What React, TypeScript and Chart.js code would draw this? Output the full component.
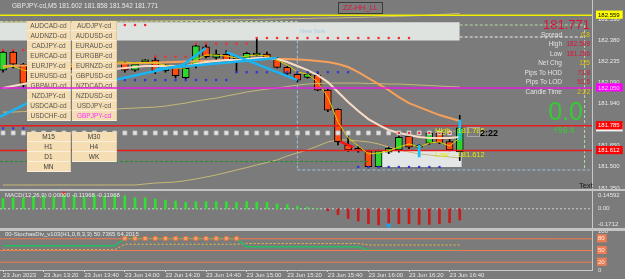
import React, { useEffect, useRef } from "react";
import { Chart, registerables } from "chart.js";

Chart.register(...registerables);

// ================= DATA =================
const TIME_LABELS = ["23 Jun 2023", "23 Jun 13:20", "23 Jun 13:40", "23 Jun 14:00", "23 Jun 14:20", "23 Jun 14:40", "23 Jun 15:00", "23 Jun 15:20", "23 Jun 15:40", "23 Jun 16:00", "23 Jun 16:20", "23 Jun 16:40"];
const TIME_TICK_BARS = [0, 4, 8, 12, 16, 20, 24, 28, 32, 36, 40, 44];

// M5 candles, bar 0 = 13:00 ... bar 45 = 16:45
const OPEN = [182.175, 182.300, 182.215, 182.082, 182.110, 182.150, 182.170, 182.210, 182.180, 182.200, 182.240, 182.220, 182.224, 182.175, 182.233, 182.245, 182.170, 182.194, 182.121, 182.210, 182.338, 182.264, 182.285, 182.262, 182.257, 182.280, 182.287, 182.257, 182.194, 182.145, 182.124, 182.140, 182.035, 181.900, 181.651, 181.628, 181.610, 181.499, 181.600, 181.616, 181.714, 181.635, 181.663, 181.733, 181.674, 181.602];
const HIGH = [182.310, 182.315, 182.222, 182.120, 182.160, 182.190, 182.220, 182.230, 182.210, 182.250, 182.260, 182.240, 182.235, 182.228, 182.248, 182.272, 182.215, 182.200, 182.210, 182.350, 182.355, 182.315, 182.310, 182.268, 182.300, 182.397, 182.300, 182.262, 182.200, 182.150, 182.155, 182.162, 182.040, 181.905, 181.707, 181.640, 181.615, 181.615, 181.636, 181.715, 181.722, 181.655, 181.745, 181.750, 181.690, 181.858];
const LOW = [182.160, 182.190, 182.050, 182.060, 182.100, 182.130, 182.160, 182.170, 182.160, 182.190, 182.210, 182.200, 182.160, 182.165, 182.225, 182.150, 182.160, 182.120, 182.105, 182.190, 182.260, 182.245, 182.240, 182.157, 182.250, 182.275, 182.250, 182.190, 182.145, 182.090, 182.118, 182.030, 181.884, 181.651, 181.605, 181.600, 181.490, 181.490, 181.590, 181.600, 181.625, 181.600, 181.655, 181.660, 181.610, 181.542];
const CLOSE = [182.301, 182.217, 182.082, 182.110, 182.150, 182.170, 182.210, 182.180, 182.200, 182.240, 182.220, 182.222, 182.175, 182.217, 182.242, 182.170, 182.210, 182.135, 182.187, 182.345, 182.268, 182.285, 182.245, 182.255, 182.292, 182.290, 182.257, 182.194, 182.152, 182.105, 182.147, 182.035, 181.895, 181.674, 181.616, 181.612, 181.499, 181.610, 181.628, 181.705, 181.635, 181.645, 181.733, 181.665, 181.616, 181.771];

const MA_SLOW = [182.203, 182.205, 182.207, 182.209, 182.210, 182.212, 182.213, 182.214, 182.215, 182.216, 182.217, 182.219, 182.221, 182.223, 182.224, 182.226, 182.229, 182.231, 182.234, 182.236, 182.238, 182.241, 182.244, 182.247, 182.249, 182.252, 182.253, 182.253, 182.252, 182.249, 182.245, 182.239, 182.231, 182.217, 182.196, 182.161, 182.119, 182.077, 182.035, 181.986, 181.944, 181.916, 181.888, 181.860, 181.840, 181.819];
const MA_MID = [182.049, 182.063, 182.077, 182.091, 182.105, 182.119, 182.133, 182.147, 182.161, 182.168, 182.175, 182.182, 182.189, 182.196, 182.203, 182.203, 182.203, 182.203, 182.203, 182.217, 182.231, 182.238, 182.245, 182.245, 182.252, 182.259, 182.259, 182.252, 182.231, 182.203, 182.175, 182.140, 182.091, 182.021, 181.951, 181.888, 181.832, 181.791, 181.756, 181.735, 181.721, 181.707, 181.700, 181.700, 181.700, 181.707];
const MA_FAST = [182.189, 182.203, 182.175, 182.161, 182.161, 182.175, 182.189, 182.203, 182.210, 182.217, 182.224, 182.231, 182.231, 182.224, 182.231, 182.224, 182.210, 182.189, 182.189, 182.245, 182.280, 182.280, 182.273, 182.259, 182.273, 182.280, 182.273, 182.245, 182.210, 182.161, 182.147, 182.091, 181.986, 181.812, 181.700, 181.644, 181.588, 181.595, 181.609, 181.637, 181.658, 181.637, 181.665, 181.672, 181.644, 181.700];
const BAND_UP = [182.511, 182.511, 182.512, 182.512, 182.513, 182.513, 182.514, 182.514, 182.515, 182.515, 182.516, 182.516, 182.517, 182.517, 182.518, 182.518, 182.519, 182.520, 182.521, 182.522, 182.523, 182.525, 182.526, 182.527, 182.528, 182.530, 182.531, 182.532, 182.534, 182.535, 182.536, 182.538, 182.539, 182.540, 182.542, 182.543, 182.545, 182.547, 182.549, 182.551, 182.553, 182.556, 182.559, 182.563, 182.567, 182.572];
const BAND_MID = [181.881, 181.881, 181.885, 181.888, 181.888, 181.888, 181.892, 181.895, 181.895, 181.899, 181.902, 181.902, 181.906, 181.909, 181.913, 181.916, 181.923, 181.934, 181.944, 181.958, 181.969, 181.979, 181.993, 182.007, 182.021, 182.032, 182.042, 182.049, 182.060, 182.070, 182.077, 182.081, 182.084, 182.084, 182.084, 182.084, 182.081, 182.081, 182.077, 182.077, 182.074, 182.070, 182.067, 182.063, 182.060, 182.056];
const BAND_LOW = [181.371, 181.371, 181.371, 181.371, 181.371, 181.371, 181.371, 181.371, 181.371, 181.371, 181.371, 181.371, 181.371, 181.371, 181.378, 181.385, 181.388, 181.392, 181.402, 181.413, 181.427, 181.441, 181.458, 181.476, 181.493, 181.511, 181.528, 181.546, 181.574, 181.595, 181.616, 181.644, 181.672, 181.686, 181.686, 181.679, 181.672, 181.658, 181.637, 181.616, 181.602, 181.588, 181.581, 181.574, 181.567, 181.560];

const RES_DOTS_HIGH = [182.315, 182.315, 182.315, null, null, null, null, null, null, null, null, null, 182.490, 182.490, 182.490, 182.268, 182.268, 182.268, 182.268, 182.360, 182.360, 182.360, 182.360, 182.360, 182.360, 182.399, 182.399, 182.399, 182.399, 182.399, 182.399, 182.399, 182.399, 182.399, 182.399, 182.399, 182.399, 182.399, 182.399, 182.399, 182.399, null, null, null, null, null];
const RES_DOTS_LOW = [null, null, null, null, null, null, null, null, null, null, null, null, null, null, null, null, null, null, null, null, null, null, null, null, null, null, null, null, null, null, null, null, null, null, null, null, null, null, null, 181.735, 181.735, 181.735, 181.735, 181.735, 181.735, null];
const SUP_DOTS = [181.767, 181.767, 181.767, null, null, null, null, null, null, null, null, null, 182.105, 182.105, 182.105, 182.105, 182.105, 182.105, 182.105, 182.105, 182.105, 182.105, 182.105, 182.160, 182.160, 182.160, 182.160, 182.160, 182.160, 182.160, 182.160, 182.160, 182.160, 182.160, 182.160, 181.497, 181.497, 181.497, 181.497, 181.497, 181.497, 181.497, 181.497, 181.497, null];
const SQUARE_LEVEL = 181.735;
const SQUARE_LAST_BAR = 44;

const LEVEL_YELLOW = 182.559;
const LEVEL_MAGENTA = 182.050;
const LEVEL_RED_HIGH = 181.785;
const LEVEL_RED_LOW = 181.612;
const LEVEL_GREEN_DASH = { price: 181.535, toBar: 36 };
const NY_BOX = { top: 182.510, bottom: 182.382, toBar: 45 };
const LOW_BOX = { top: 181.610, bottom: 181.497, fromBar: 37.2, toBar: 45.2 };
const SESSION_RECT = { fromBar: 29, toBar: 57.3, top: 182.49, bottom: 181.476, inner: 182.406, nyTop: 182.515 };

const TREND_A = [{ bar: -0.3, price: 181.847 }, { bar: 3.75, price: 181.993 }, { bar: 17.7, price: 182.210 }, { bar: 20, price: 182.329 }];
const TREND_B = [{ bar: 22, price: 182.301 }, { bar: 29, price: 182.105 }];
const TREND_C = [{ bar: 15, price: 182.182 }, { bar: 27, price: 182.259 }];
const RED_SEGMENT = [{ bar: 33.2, price: 181.675 }, { bar: 34.5, price: 181.636 }];
const CYAN_ARROWS = [{ bar: 41, lo: 181.567, hi: 181.651 }, { bar: 45, lo: 181.686, hi: 181.826 }];

const PRICE_TICKS = [182.530, 182.380, 182.235, 182.090, 181.940, 181.795, 181.650, 181.500, 181.350];
const PRICE_MARKS = [
  { value: 182.559, bg: "#ffff00", fg: "#000000" },
  { value: 182.050, bg: "#ff00ff", fg: "#ffd8ff" },
  { value: 181.771, bg: "#f2f2f2", fg: "#000000" },
  { value: 181.785, bg: "#ff0000", fg: "#ffffff" },
  { value: 181.612, bg: "#ff0000", fg: "#ffffff" },
];

const MACD_HIST = [0.110, 0.117, 0.117, 0.128, 0.138, 0.128, 0.1459, 0.138, 0.128, 0.145, 0.138, 0.145, 0.138, 0.117, 0.117, 0.104, 0.093, 0.083, 0.069, 0.076, 0.076, 0.076, 0.076, 0.069, 0.076, 0.069, 0.069, 0.052, 0.045, 0.028, 0.017, 0.003, -0.021, -0.062, -0.104, -0.131, -0.159, -0.1712, -0.166, -0.159, -0.159, -0.166, -0.166, -0.159, -0.148, -0.1197];
const MACD_TICKS = [0.14592, 0, -0.1712];
const MACD_TICK_LABELS = ["0.14592", "0.00", "-0.1712"];
const MACD_UP_MARK = { bar: 6, value: 0.169 };
const MACD_DOWN_MARK = { bar: 38, value: -0.177 };

const STOCH_MAIN = [62, 62, 62, 62, 62, 62, 62, 62, 62, 62, 62, 62, 81, 81, 81, 81, 81, 81, 81, 81, 81, 81, 81, 81, 59.5, 59.5, 59.5, 59.5, 59.5, 59.5, 59.5, 59.5, 59.5, 59.5, 59.5, 59.5, 50.74, 50.74, 50.74, 50.74, 50.74, 50.74, 50.74, 50.74, 50.74, 50.74];
const STOCH_SIGNAL = [52, 52, 52, 52, 52, 52, 52, 52, 52, 52, 52, 52, 66, 66, 66, 66, 66, 66, 66, 66, 66, 66, 66, 66, 68, 68, 68, 68, 68, 68, 68, 68, 68, 68, 68, 68, 64.2, 64.2, 64.2, 64.2, 64.2, 64.2, 64.2, 64.2, 64.2, 64.2];
const STOCH_OB = [null, null, null, null, null, null, null, null, null, null, null, null, 81, 81, 81, 81, 81, 81, 81, 81, 81, 81, 81, 81, null, null, null, null, null, null, null, null, null, null, null, null, null, null, null, null, null, null, null, null, null, null];
const STOCH_LEVELS = [80, 50, 20];
const STOCH_TICKS = [100, 80, 50, 20, 0];

const PAIR_BUTTONS = [["AUDCAD-cd", "AUDJPY-cd"], ["AUDNZD-cd", "AUDUSD-cd"], ["CADJPY-cd", "EURAUD-cd"], ["EURCAD-cd", "EURGBP-cd"], ["EURJPY-cd", "EURNZD-cd"], ["EURUSD-cd", "GBPUSD-cd"], ["GBPAUD-cd", "NZDCAD-cd"], ["NZDJPY-cd", "NZDUSD-cd"], ["USDCAD-cd", "USDJPY-cd"], ["USDCHF-cd", "GBPJPY-cd"]];
const TF_BUTTONS = [["M15", "M30"], ["H1", "H4"], ["D1", "WK"], ["MN"]];
const INFO_ROWS = [
  ["Spread", "0.8", "#e8c400"],
  ["High", "182.509", "#dc143c"],
  ["Low", "181.256", "#dc143c"],
  ["Net Chg", "125", "#e8c400"],
  ["Pips To HOD", "73.8", "#dc143c"],
  ["Pips To LOD", "51.5", "#dc143c"],
  ["Candle Time", "2:22", "#e8c400"],
];

// ================= LAYOUT / STYLE =================
const W = 625;
const H = 279;
const AXIS_W = 33;
const X_MIN = -0.3;
const X_MAX = 58.03;
const MAIN_BOTTOM = 189;
const PRICE_MIN = 181.343;
const PRICE_MAX = 182.665;
const MACD_TOP = 191;
const MACD_BOTTOM = 228;
const STOCH_TOP = 231;
const STOCH_BOTTOM = 270;
const FONT = "'Liberation Sans', Arial, sans-serif";
const BG = "#7b7b7b";
const AXIS_TEXT = "#e8e8e8";
const BULL = "#2fd52f";
const BEAR = "#ff4a12";

const markOf = (marks: any[], v: any) => (v === undefined || v === null ? undefined : marks.find((m) => Math.abs(m.value - v) < 1e-7));
const series = (arr: any[]) => arr.map((v, i) => ({ x: i, y: v }));
const hline = (v: number, from = X_MIN, to = X_MAX) => [{ x: from, y: v }, { x: to, y: v }];
const pts = (arr: any[]) => arr.map((p) => ({ x: p.bar, y: p.price }));

const line = (data: any[], color: string, width: number, order: number, extra: any = {}) => ({
  type: "line", data, borderColor: color, backgroundColor: color, borderWidth: width, pointRadius: 0, tension: 0, fill: false, order, ...extra,
});
const dots = (data: any[], color: string, radius: number, style: string, order: number, border = color) => ({
  type: "line", data, showLine: false, pointRadius: radius, pointStyle: style, pointBackgroundColor: color, pointBorderColor: border, pointBorderWidth: border === color ? 0 : 0.8, order,
});

const fixY = (s: any) => { s.width = AXIS_W; s.paddingTop = 0; s.paddingBottom = 0; };
const xHidden = { type: "linear", min: X_MIN, max: X_MAX, display: false, offset: false };
const baseOptions = (top: number, bottom: number) => ({
  animation: false, responsive: false, maintainAspectRatio: false, events: [],
  layout: { autoPadding: false, padding: { left: 0, right: 0, top, bottom } },
  plugins: { legend: { display: false }, tooltip: { enabled: false } },
});
const tickFont = { family: FONT, size: 6 };

function mainDatasets() {
  const squares = [];
  for (let i = 0; i <= SQUARE_LAST_BAR; i++) squares.push({ x: i, y: SQUARE_LEVEL });
  return [
    line(hline(NY_BOX.top, X_MIN, NY_BOX.toBar), "rgba(0,0,0,0)", 0, 100, { fill: { value: NY_BOX.bottom }, backgroundColor: "#dfe3df" }),
    line(hline(LOW_BOX.top, LOW_BOX.fromBar, LOW_BOX.toBar), "rgba(0,0,0,0)", 0, 99, { fill: { value: LOW_BOX.bottom }, backgroundColor: "#e2e6e6" }),
    line(hline(SESSION_RECT.nyTop, X_MIN, SESSION_RECT.fromBar), "#b4dca0", 1, 90, { borderDash: [3, 2] }),
    line([{ x: SESSION_RECT.fromBar, y: NY_BOX.bottom }, { x: SESSION_RECT.fromBar, y: SESSION_RECT.bottom }], "#9cc4e4", 1, 90, { borderDash: [3, 2] }),
    line(hline(SESSION_RECT.bottom, SESSION_RECT.fromBar, SESSION_RECT.toBar + 0.5), "#9cc4e4", 1, 90, { borderDash: [3, 2] }),
    line(hline(SESSION_RECT.top, NY_BOX.toBar, SESSION_RECT.toBar), "#b4dca0", 1, 90, { borderDash: [3, 2] }),
    line([{ x: SESSION_RECT.toBar, y: SESSION_RECT.top }, { x: SESSION_RECT.toBar, y: SESSION_RECT.bottom }], "#b4dca0", 1, 90, { borderDash: [3, 2] }),
    line(hline(SESSION_RECT.inner, NY_BOX.toBar, SESSION_RECT.toBar), "#eeeeee", 1, 90, { borderDash: [3, 2] }),
    line(series(BAND_UP), "#c8b878", 1, 80),
    line(series(BAND_LOW), "#c8b878", 1, 80),
    {
      type: "bar", data: OPEN.map((_, i) => ({ x: i, y: [LOW[i], HIGH[i]] })), backgroundColor: "#000000",
      barThickness: 1, grouped: false, order: 61,
    },
    {
      type: "bar", data: OPEN.map((o, i) => ({ x: i, y: [o, CLOSE[i]] })),
      backgroundColor: OPEN.map((o, i) => (CLOSE[i] >= o ? BULL : BEAR)),
      borderColor: "#000000", borderWidth: 1, borderSkipped: false, barThickness: 7, grouped: false, minBarLength: 2, order: 60,
    },
    line(hline(LEVEL_YELLOW), "#f0f000", 1.5, 55),
    line(hline(LEVEL_RED_HIGH), "#e81c1c", 1.5, 55),
    line(hline(LEVEL_RED_LOW), "#e81c1c", 1.5, 55),
    line(hline(LEVEL_GREEN_DASH.price, X_MIN, LEVEL_GREEN_DASH.toBar), "#238c23", 1, 55, { borderDash: [3, 2] }),
    line(series(BAND_MID), "#c8b878", 1, 50),
    line(series(MA_SLOW), "#f5a05a", 2, 49),
    line(series(MA_MID), "#fadcc4", 2, 48),
    line(series(MA_FAST), "#e0cc00", 1, 47),
    dots(squares, "#e4e4e4", 2.8, "rect", 40, "#c0c0c0"),
    dots(series(RES_DOTS_HIGH), "#f03030", 1.6, "rect", 39),
    dots(series(RES_DOTS_LOW), "#f03030", 1.5, "rect", 38),
    dots(series(SUP_DOTS), "#3434d8", 1.6, "rect", 38),
    line(pts(TREND_A), "#1ab4f2", 2.5, 30),
    line(pts(TREND_B), "#1ab4f2", 2.5, 30),
    line(pts(TREND_C), "#1ab4f2", 2.5, 30),
    line(pts(RED_SEGMENT), "#ff1010", 2.5, 29),
    {
      type: "bar", data: CYAN_ARROWS.map((a) => ({ x: a.bar, y: [a.lo, a.hi] })), backgroundColor: "#18c0f8",
      barThickness: 2, grouped: false, order: 28,
    },
  ];
}

function mainConfig(datasets: any[], withTicks: boolean) {
  return {
    type: "bar",
    data: { datasets },
    options: {
      ...baseOptions(0, H - MAIN_BOTTOM),
      scales: {
        x: xHidden,
        y: {
          type: "linear", position: "right", min: PRICE_MIN, max: PRICE_MAX, beginAtZero: false,
          grid: { display: false, drawTicks: false },
          border: { display: withTicks, color: "#c8c8c8", width: 1 },
          afterFit: fixY,
          afterBuildTicks: (s: any) => {
            s.ticks = [...PRICE_TICKS, ...PRICE_MARKS.map((m) => m.value)].map((v) => ({ value: v }));
          },
          ticks: {
            display: withTicks, autoSkip: false, padding: 6, font: tickFont,
            callback: (v: any) => Number(v).toFixed(3),
            color: (c: any) => markOf(PRICE_MARKS, c.tick?.value)?.fg ?? AXIS_TEXT,
            showLabelBackdrop: (c: any) => !!markOf(PRICE_MARKS, c.tick?.value),
            backdropColor: (c: any) => markOf(PRICE_MARKS, c.tick?.value)?.bg ?? "rgba(0,0,0,0)",
            backdropPadding: { left: 2, right: 3, top: 1, bottom: 0 },
          },
        },
      },
    },
  };
}

function macdConfig() {
  return {
    type: "bar",
    data: {
      datasets: [
        line(hline(0), "#d0d0d0", 1, 10, { borderDash: [2, 2] }),
        {
          type: "bar", data: series(MACD_HIST), backgroundColor: MACD_HIST.map((v) => (v >= 0 ? "#30e030" : "#c81c1c")),
          barThickness: 2, grouped: false, order: 5,
        },
        dots([{ x: MACD_UP_MARK.bar, y: MACD_UP_MARK.value }], "#ff2020", 2.5, "triangle", 1),
        dots([{ x: MACD_DOWN_MARK.bar, y: MACD_DOWN_MARK.value }], "#1ea0f0", 2.2, "circle", 1),
      ],
    },
    options: {
      ...baseOptions(MACD_TOP, H - MACD_BOTTOM),
      scales: {
        x: xHidden,
        y: {
          type: "linear", position: "right", min: -0.205, max: 0.19, beginAtZero: false,
          grid: { display: false, drawTicks: false },
          border: { display: true, color: "#c8c8c8", width: 1 },
          afterFit: fixY,
          afterBuildTicks: (s: any) => { s.ticks = MACD_TICKS.map((v) => ({ value: v })); },
          ticks: {
            autoSkip: false, padding: 6, font: tickFont, color: AXIS_TEXT,
            callback: (_v: any, i: number) => MACD_TICK_LABELS[i],
          },
        },
      },
    },
  };
}

function stochConfig() {
  const levelMarks = STOCH_LEVELS.map((v) => ({ value: v }));
  return {
    type: "line",
    data: {
      datasets: [
        ...STOCH_LEVELS.map((v) => line(hline(v), "#f07a50", 1, 3)),
        line(series(STOCH_MAIN), "#22c060", 1.5, 5),
        line(series(STOCH_SIGNAL), "#e0c040", 1, 6, { borderDash: [2, 2] }),
        dots(series(STOCH_OB), "#f4a070", 2.8, "rect", 1, "#e0703c"),
      ],
    },
    options: {
      ...baseOptions(STOCH_TOP, 0),
      scales: {
        x: {
          type: "linear", min: X_MIN, max: X_MAX, offset: false, position: "bottom",
          grid: { display: true, drawOnChartArea: false, drawTicks: true, tickLength: 2, color: "#d8d8d8" },
          border: { display: true, color: "#c8c8c8" },
          afterBuildTicks: (s: any) => { s.ticks = TIME_TICK_BARS.map((v) => ({ value: v })); },
          afterFit: (s: any) => { s.height = H - STOCH_BOTTOM; s.paddingLeft = 0; s.paddingRight = 0; },
          ticks: {
            autoSkip: false, maxRotation: 0, minRotation: 0, align: "start", padding: 0, font: tickFont, color: AXIS_TEXT,
            callback: (_v: any, i: number) => TIME_LABELS[i] ?? "",
          },
        },
        y: {
          type: "linear", position: "right", min: 0, max: 100,
          grid: { display: false, drawTicks: false },
          border: { display: true, color: "#c8c8c8", width: 1 },
          afterFit: fixY,
          afterBuildTicks: (s: any) => { s.ticks = STOCH_TICKS.map((v) => ({ value: v })); },
          ticks: {
            autoSkip: false, padding: 6, font: tickFont,
            callback: (v: any) => String(v),
            color: (c: any) => (markOf(levelMarks, c.tick?.value) ? "#fff0e8" : AXIS_TEXT),
            showLabelBackdrop: (c: any) => !!markOf(levelMarks, c.tick?.value),
            backdropColor: (c: any) => (markOf(levelMarks, c.tick?.value) ? "#ee7d55" : "rgba(0,0,0,0)"),
            backdropPadding: { left: 1, right: 2, top: 1, bottom: 0 },
          },
        },
      },
    },
  };
}

function ChartCanvas({ make, z }: { make: () => any; z: number }) {
  const ref = useRef<HTMLCanvasElement | null>(null);
  useEffect(() => {
    if (!ref.current) return;
    const chart = new Chart(ref.current, make());
    return () => chart.destroy();
  }, []);
  return <canvas ref={ref} width={W} height={H} style={{ position: "absolute", left: 0, top: 0, width: W, height: H, zIndex: z }} />;
}

function Txt({ x, y, size, color, children, align = "left", bold = false }: any) {
  const lh = Math.round(size * 1.2);
  const st: any = {
    position: "absolute", top: y - lh / 2, fontSize: size, lineHeight: lh + "px", color, fontFamily: FONT,
    whiteSpace: "nowrap", fontWeight: bold ? "bold" : "normal", zIndex: 5,
  };
  if (align === "right") st.right = W - x; else st.left = x;
  return <div style={st}>{children}</div>;
}

function Button({ x, y, w, label, color }: any) {
  return (
    <div style={{
      position: "absolute", left: x, top: y, width: w, height: 10, boxSizing: "border-box", background: "#f5deb3",
      borderBottom: "1px solid #fbf0dc", borderRight: "1px solid #dccaa4", fontFamily: FONT, fontSize: 6.5, lineHeight: "10px",
      textAlign: "center", color, zIndex: 5, whiteSpace: "nowrap",
    }}>{label}</div>
  );
}

export default function App() {
  useEffect(() => {
    document.body.style.margin = "0";
    document.body.style.background = BG;
  }, []);
  return (
    <div style={{ position: "fixed", left: 0, top: 0, width: W, height: H, background: BG, overflow: "hidden" }}>
      <ChartCanvas z={1} make={() => mainConfig(mainDatasets(), true)} />
      <ChartCanvas z={1} make={macdConfig} />
      <ChartCanvas z={1} make={stochConfig} />

      <div style={{ position: "absolute", left: 0, top: MAIN_BOTTOM, width: W, height: 2, background: "#c4c4c4", zIndex: 2 }} />
      <div style={{ position: "absolute", left: 0, top: MACD_BOTTOM, width: W, height: 2.5, background: "#c4c4c4", zIndex: 2 }} />

      <Txt x={12} y={6} size={6.5} color={AXIS_TEXT}>GBPJPY-cd,M5  181.602 181.858 181.542 181.771</Txt>
      <div style={{ position: "absolute", left: 338, top: 2, width: 45, height: 12, boxSizing: "border-box", border: "1px solid #3c3c3c", zIndex: 5, fontFamily: FONT, fontSize: 7.5, lineHeight: "10px", textAlign: "center", color: "#dc143c" }}>ZZ-HH_LL</div>
      <Txt x={300} y={31.5} size={6} color="#a8c8e6">New York</Txt>

      {PAIR_BUTTONS.map((row, r) => row.map((label, c) => (
        <Button key={"p" + r + c} x={c === 0 ? 27 : 72} y={20.5 + r * 10.1} w={c === 0 ? 44 : 45} label={label} color={label === "GBPJPY-cd" ? "#ff30ff" : "#555555"} />
      )))}
      {TF_BUTTONS.map((row, r) => row.map((label, c) => (
        <Button key={"t" + r + c} x={c === 0 ? 27 : 72} y={131.5 + r * 10.2} w={c === 0 ? 44 : 45} label={label} color="#3a3a3a" />
      )))}

      <Txt x={590} y={25} size={13} color="#dc143c" align="right">181.771</Txt>
      {INFO_ROWS.map((r, i) => (
        <React.Fragment key={"i" + i}>
          <Txt x={562} y={35 + i * 9.45} size={6.5} color="#e2e2e2" align="right">{r[0]}</Txt>
          <Txt x={590} y={35 + i * 9.45} size={6.5} color={r[2]} align="right">{r[1]}</Txt>
        </React.Fragment>
      ))}
      <Txt x={583} y={111} size={25} color="#34cc34" align="right">0.0</Txt>
      <Txt x={553} y={130} size={8.5} color="#34cc34">+59.4</Txt>

      <Txt x={435} y={130} size={7.5} color="#e6e60a">High</Txt>
      <Txt x={453} y={130} size={7.5} color="#e6e60a">- 181.785</Txt>
      <Txt x={435} y={154.5} size={7.5} color="#e6e60a">Low</Txt>
      <Txt x={453} y={154.5} size={7.5} color="#e6e60a">- 181.612</Txt>
      <div style={{ position: "absolute", left: 467, top: 127, width: 13, height: 10, boxSizing: "border-box", border: "1px solid #a8a8a8", zIndex: 5 }} />
      <Txt x={480} y={133.5} size={9} color="#000000" bold>2:22</Txt>
      <Txt x={579} y={185} size={7.5} color="#1a1a1a">Text</Txt>

      <Txt x={5} y={195.5} size={6} color={AXIS_TEXT}>MACD(12,26,9) 0.00000 -0.11968 -0.11968</Txt>
      <Txt x={5} y={234.5} size={6} color={AXIS_TEXT}>00-StochasDiv_v103(H1,0,8,3,3) 50.7365 64.2015</Txt>

      <ChartCanvas z={8} make={() => mainConfig([line(hline(LEVEL_MAGENTA), "#e020e0", 1.5, 1)], false)} />
    </div>
  );
}
